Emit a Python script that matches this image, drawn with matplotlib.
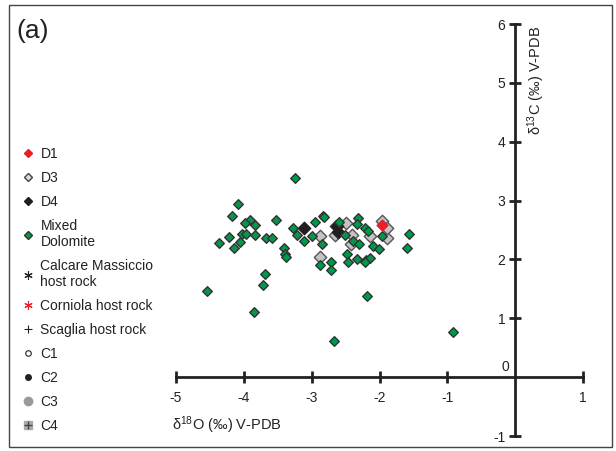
import matplotlib
matplotlib.use("Agg")
import matplotlib.pyplot as plt
from matplotlib.lines import Line2D
from matplotlib.patches import Rectangle

plt.rcParams['font.family'] = ['Liberation Sans', 'DejaVu Sans']
plt.rcParams['mathtext.fontset'] = 'custom'
plt.rcParams['mathtext.rm'] = 'Liberation Sans'
plt.rcParams['mathtext.it'] = 'Liberation Sans:italic'

# mixed dolomite
mixed_x = [-3.24, -4.08, -4.18, -3.91, -3.99, -3.83, -3.52, -3.28, -2.95, -2.83,
           -4.22, -4.37, -4.03, -3.97, -3.84, -4.05, -4.14, -3.67, -3.59, -3.41,
           -3.40, -3.38, -3.21, -3.12, -3.00, -3.69, -3.72, -4.55, -3.85, -2.88,
           -2.82, -2.85, -2.59, -2.32, -2.33, -2.51, -2.22, -2.17, -2.39, -2.30,
           -1.97, -2.10, -2.01, -2.48, -2.46, -2.33, -2.20, -2.14, -2.21, -2.72,
           -2.71, -1.57, -1.60, -2.18, -2.67, -0.92]
mixed_y = [3.39, 2.95, 2.74, 2.67, 2.62, 2.58, 2.67, 2.54, 2.64, 2.73,
           2.38, 2.28, 2.43, 2.43, 2.42, 2.30, 2.19, 2.36, 2.36, 2.19,
           2.10, 2.04, 2.42, 2.32, 2.40, 1.76, 1.56, 1.46, 1.10, 1.90,
           2.72, 2.26, 2.63, 2.70, 2.60, 2.41, 2.53, 2.48, 2.31, 2.26,
           2.40, 2.22, 2.17, 2.10, 1.95, 2.00, 1.99, 2.03, 1.95, 1.96,
           1.82, 2.44, 2.19, 1.38, 0.62, 0.77]

d3_x = [-2.87, -2.87, -2.49, -2.64, -2.66, -2.40, -2.42, -2.14, -1.97, -1.89, -1.89]
d3_y = [2.39, 2.04, 2.62, 2.56, 2.42, 2.41, 2.27, 2.40, 2.65, 2.37, 2.53]

d4_x = [-3.12, -2.61, -2.63]
d4_y = [2.54, 2.47, 2.56]

d1_x = [-1.97]
d1_y = [2.58]

legend_labels = ["D1", "D3", "D4", "Mixed\nDolomite", "Calcare Massiccio\nhost rock",
                 "Corniola host rock", "Scaglia host rock", "C1", "C2", "C3", "C4"]

green = "#00994c"
edge = "#333333"

fig = plt.figure(figsize=(6.16, 4.51), dpi=100)
ax = fig.add_axes([176 / 616, 1 - 436 / 451, (583 - 176) / 616, (436 - 24) / 451])

ax.scatter(d3_x, d3_y, marker='D', s=40, c="#c4c4c4", edgecolors="#555555", linewidths=1, zorder=3)
ax.scatter(d4_x, d4_y, marker='D', s=40, c="#231f20", edgecolors="#231f20", linewidths=1, zorder=4)
ax.scatter(mixed_x, mixed_y, marker='D', s=24, c=green, edgecolors=edge, linewidths=1, zorder=5)
ax.scatter(d1_x, d1_y, marker='D', s=30, c="#ee1c25", edgecolors="#ee1c25", linewidths=1, zorder=6)

ax.set_xlim(-5, 1)
ax.set_ylim(-1, 6)
ax.spines['left'].set_position(('data', 0))
ax.spines['bottom'].set_position(('data', 0))
ax.spines['top'].set_visible(False)
ax.spines['right'].set_visible(False)
for sp in ('left', 'bottom'):
    ax.spines[sp].set_linewidth(2)
    ax.spines[sp].set_color("#222222")
ax.set_xticks([-5, -4, -3, -2, -1, 1])
ax.set_yticks([-1, 1, 2, 3, 4, 5, 6])
ax.set_xticklabels(["-5", "-4", "-3", "-2", "-1", "1"])
ax.set_yticklabels(["-1", "1", "2", "3", "4", "5", "6"])
ax.tick_params(direction='inout', length=8, width=2, color="#222222",
               labelsize=10, labelcolor="#222222")
ax.tick_params(axis='x', pad=6)
ax.tick_params(axis='y', pad=3)
ax.patch.set_visible(False)

ax.text(-0.08, 0.17, "0", ha='right', va='center', fontsize=10, color="#222222")
ax.text(0.31, 5.97, r"δ$^{13}$C (‰) V-PDB", rotation=90, ha='center', va='top',
        fontsize=10.5, color="#222222")
ax.text(-5.06, -0.82, r"δ$^{18}$O (‰) V-PDB", ha='left', va='center',
        fontsize=10.5, color="#222222")

fig.text(16 / 616, 1 - 31 / 451, "(a)", ha='left', va='center', fontsize=19, color="#222222")

handles = [
    Line2D([], [], ls='none', marker='D', ms=4, mfc="#ee1c25", mec="#ee1c25"),
    Line2D([], [], ls='none', marker='D', ms=4, mfc="#dddddd", mec="#444444"),
    Line2D([], [], ls='none', marker='D', ms=4, mfc="#231f20", mec="#231f20"),
    Line2D([], [], ls='none', marker='D', ms=4, mfc=green, mec=edge),
    Line2D([], [], ls='none', marker=(6, 2, 0), ms=6, mec="#222222", mew=0.8),
    Line2D([], [], ls='none', marker=(6, 2, 0), ms=6, mec="#ee1c25", mew=0.8),
    Line2D([], [], ls='none', marker='+', ms=6, mec="#222222", mew=0.8),
    Line2D([], [], ls='none', marker='o', ms=4, mfc="white", mec="#222222", mew=0.8),
    Line2D([], [], ls='none', marker='o', ms=4, mfc="#222222", mec="#222222"),
    Line2D([], [], ls='none', marker='o', ms=6, mfc="#999999", mec="#999999"),
    (Line2D([], [], ls='none', marker='s', ms=6, mfc="#aaaaaa", mec="#aaaaaa"),
     Line2D([], [], ls='none', marker='+', ms=6, mec="#444444", mew=1)),
]
fig.legend(handles, legend_labels, loc='upper left', bbox_to_anchor=(14 / 616, 1 - 140 / 451),
           frameon=False, fontsize=10, handlelength=1.0, handletextpad=0.4,
           labelspacing=0.72, borderpad=0, labelcolor="#222222")

fig.add_artist(Rectangle((9 / 616, 1 - 447 / 451), 603 / 616, 442 / 451,
                         transform=fig.transFigure, fill=False, ec="#444444", lw=1))

fig.savefig("out.png", dpi=100, facecolor="white")
